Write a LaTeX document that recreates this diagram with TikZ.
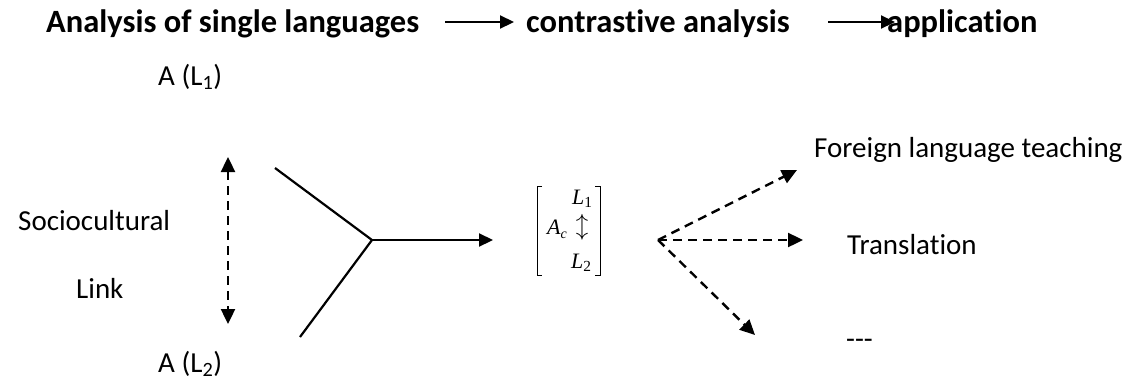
\documentclass[tikz,border=0pt]{standalone}
\usepackage{fontspec}
\setmainfont[Ligatures=NoCommon]{Carlito}
\newfontfamily\serifit{Liberation Serif}
\usetikzlibrary{arrows.meta}
\begin{document}
\begin{tikzpicture}[x=1pt,y=-1pt,
  txt/.style={inner sep=0pt,anchor=base west,font=\fontsize{29}{34}\selectfont},
  ttl/.style={inner sep=0pt,anchor=base west,font=\fontsize{32.5}{38}\selectfont\bfseries},
  arr/.style={line width=2.2pt,-{Triangle[length=14pt,width=13pt]}},
  darr/.style={line width=2.4pt,dash pattern=on 9pt off 6pt,-{Triangle[length=15pt,width=14pt]}},
  plain/.style={line width=2.2pt},
  mtx/.style={inner sep=0pt,anchor=base west,font=\fontsize{22}{25}\serifit\itshape}]
\useasboundingbox (0,0) rectangle (1128,381);
% title
\node[ttl] (t1) at (46,32) {Analysis of single languages};
\node[ttl] (t2) at (526,32) {contrastive analysis};
\node[ttl] (t3) at (887,32) {application};
\coordinate (a1s) at (445,22); \coordinate (a1e) at (514,22);
\coordinate (a2s) at (828,22); \coordinate (a2e) at (895,22);
\draw[arr] (a1s) -- (a1e);
\draw[arr] (a2s) -- (a2e);
% left part
\node[txt] (al1) at (158,85) {A (L\textsubscript{1})};
\node[txt] (al2) at (158,372) {A (L\textsubscript{2})};
\node[txt] (soc) at (18,230) {Sociocultural};
\node[txt] (lnk) at (76,298) {Link};
\coordinate (du) at (228,157); \coordinate (dd) at (228,324);
\draw[darr,{Triangle[length=15pt,width=14pt]}-{Triangle[length=15pt,width=14pt]}] (du) -- (dd);
\coordinate (y1) at (275,168); \coordinate (yc) at (372,240); \coordinate (y2) at (300,337);
\coordinate (ye) at (493,240);
\draw[plain] (y1) -- (yc) -- (y2);
\draw[arr] (yc) -- (ye);
% matrix
\coordinate (mtl) at (537,186); \coordinate (mbl) at (537,275);
\coordinate (mtr) at (600,186); \coordinate (mbr) at (600,275);
\draw[line width=0.9pt] ([xshift=5]mtl) -- (mtl) -- (mbl) -- ([xshift=5]mbl);
\draw[line width=0.9pt] ([xshift=-5]mtr) -- (mtr) -- (mbr) -- ([xshift=-5]mbr);
\node[mtx] (ml1) at (572,204) {L\textsubscript{\upshape 1}};
\node[mtx] (mac) at (547,234) {A\raisebox{-4pt}{\fontsize{14}{16}\selectfont c}};
\node[inner sep=0pt] (mud) at (582,227) {\fontsize{27}{30}\selectfont$\updownarrow$};
\node[mtx] (ml2) at (571,268) {L\textsubscript{\upshape 2}};
% right part
\coordinate (o) at (658,240);
\coordinate (r1) at (797,170); \coordinate (r2) at (803,240); \coordinate (r3) at (755,335);
\draw[darr] (o) -- (r1);
\draw[darr] (o) -- (r2);
\draw[darr] (o) -- (r3);
\node[txt] (flt) at (814,157) {Foreign language teaching};
\node[txt] (tr) at (847,254) {Translation};
\node[txt] (dots) at (846,348) {{-}{-}{-}};
\end{tikzpicture}
\end{document}
